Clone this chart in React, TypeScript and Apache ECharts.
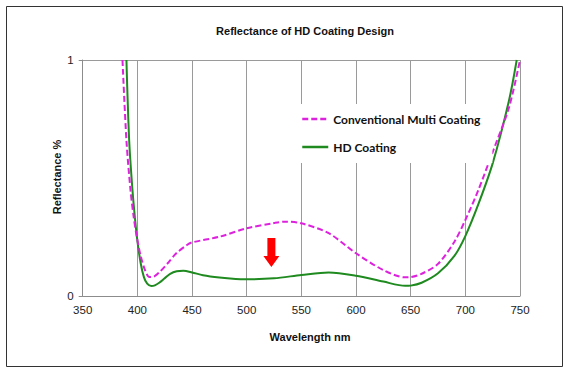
import React, { useEffect, useRef } from "react";
import * as echarts from "echarts";

const chartTitle = "Reflectance of HD Coating Design";
const xAxisName = "Wavelength nm";
const yAxisName = "Reflectance %";
const seriesNames = ["Conventional Multi Coating", "HD Coating"];

const conventionalWl = [386.4, 390, 393.7, 396.5, 399.5, 403, 407, 411, 415, 420, 428, 435.6, 445, 450, 475, 500, 525, 535, 550, 575, 600, 625, 645, 650, 660, 675, 690, 700, 712, 725, 740, 750];
const conventionalR = [1.0, 0.66, 0.45, 0.34, 0.25, 0.17, 0.11, 0.08, 0.082, 0.1, 0.14, 0.181, 0.215, 0.227, 0.251, 0.287, 0.309, 0.315, 0.308, 0.266, 0.181, 0.11, 0.079, 0.08, 0.094, 0.136, 0.23, 0.322, 0.45, 0.61, 0.8, 1.0];

const hdWl = [390, 392.5, 395.5, 398, 400, 403, 406, 409, 412.8, 416, 420, 425, 430, 436, 442, 450, 460, 475, 490, 500, 525, 550, 575, 600, 625, 645, 650, 660, 675, 690, 700, 712, 725, 740, 747];
const hdR = [1.0, 0.66, 0.45, 0.32, 0.235, 0.14, 0.08, 0.052, 0.042, 0.045, 0.056, 0.075, 0.094, 0.105, 0.107, 0.1, 0.088, 0.078, 0.072, 0.071, 0.075, 0.089, 0.1, 0.086, 0.061, 0.043, 0.044, 0.056, 0.096, 0.17, 0.254, 0.39, 0.562, 0.83, 1.0];

const arrowAt = [522.6, 0.184];

export default function App() {
  const ref = useRef<HTMLDivElement>(null);
  useEffect(() => {
    if (!ref.current) return;
    const chart = echarts.init(ref.current, null, { renderer: "svg" });
    const font = "'Liberation Sans', Arial, sans-serif";
    chart.setOption({
      animation: false,
      backgroundColor: "#fff",
      grid: { left: 82.7, right: 48, top: 60, bottom: 79, containLabel: false },
      xAxis: {
        type: "value",
        min: 350,
        max: 750,
        interval: 50,
        axisLine: { show: true, lineStyle: { color: "#8c8c8c", width: 1 } },
        axisTick: { show: false },
        axisLabel: { color: "#222", fontFamily: font, fontSize: 11.5, margin: 8 },
        splitLine: { show: true, lineStyle: { color: "#9a9a9a", width: 1 } },
      },
      yAxis: {
        type: "value",
        min: 0,
        max: 1,
        interval: 1,
        axisLine: { show: true, lineStyle: { color: "#8c8c8c", width: 1 } },
        axisTick: { show: true, inside: false, length: 4, lineStyle: { color: "#8c8c8c" } },
        axisLabel: { color: "#222", fontFamily: font, fontSize: 11.5, margin: 9 },
        splitLine: { show: true, lineStyle: { color: "#9a9a9a", width: 1 } },
      },
      legend: {
        orient: "vertical",
        left: 296,
        top: 104,
        itemWidth: 26,
        itemHeight: 14,
        itemGap: 16,
        backgroundColor: "#fff",
        padding: [9, 12, 10, 5],
        itemStyle: { opacity: 0 },
        lineStyle: { width: 2.5 },
        textStyle: { fontFamily: "Lato, 'Open Sans', sans-serif", fontWeight: "bold", fontSize: 12, color: "#111" },
        data: seriesNames,
      },
      series: [
        {
          name: seriesNames[0],
          type: "line",
          smooth: 0.3,
          showSymbol: false,
          symbol: "none",
          data: conventionalWl.map((w, i) => [w, conventionalR[i]]),
          itemStyle: { color: "#dd22dd" },
          lineStyle: { color: "#dd22dd", width: 2, type: [6, 3] },
          z: 3,
        },
        {
          name: seriesNames[1],
          type: "line",
          smooth: 0.3,
          showSymbol: false,
          symbol: "none",
          data: hdWl.map((w, i) => [w, hdR[i]]),
          itemStyle: { color: "#1f8a1f" },
          lineStyle: { color: "#1f8a1f", width: 2 },
          z: 2,
          markPoint: {
            silent: true,
            symbol: "path://M4,0 L12,0 L12,18 L16,18 L8,29 L0,18 L4,18 Z",
            symbolSize: [16, 29],
            itemStyle: { color: "#ff0000" },
            label: { show: false },
            data: [{ coord: arrowAt }],
          },
        },
      ],
      graphic: [
        {
          type: "rect",
          shape: { x: 6.5, y: 6.5, width: 556, height: 360 },
          style: { fill: "none", stroke: "#333", lineWidth: 1 },
          silent: true,
        },
        {
          type: "text",
          x: 305,
          y: 30.5,
          style: { text: chartTitle, fontFamily: font, fontWeight: "bold", fontSize: 11, fill: "#111", textAlign: "center", textVerticalAlign: "middle" },
        },
        {
          type: "text",
          x: 57,
          y: 177,
          rotation: Math.PI / 2,
          style: { text: yAxisName, fontFamily: font, fontWeight: "bold", fontSize: 11, fill: "#111", textAlign: "center", textVerticalAlign: "middle" },
        },
        {
          type: "text",
          x: 310,
          y: 337,
          style: { text: xAxisName, fontFamily: font, fontWeight: "bold", fontSize: 11, fill: "#111", textAlign: "center", textVerticalAlign: "middle" },
        },
      ],
    });
    return () => chart.dispose();
  }, []);
  return <div ref={ref} style={{ position: "fixed", left: 0, top: 0, width: 568, height: 375 }} />;
}
